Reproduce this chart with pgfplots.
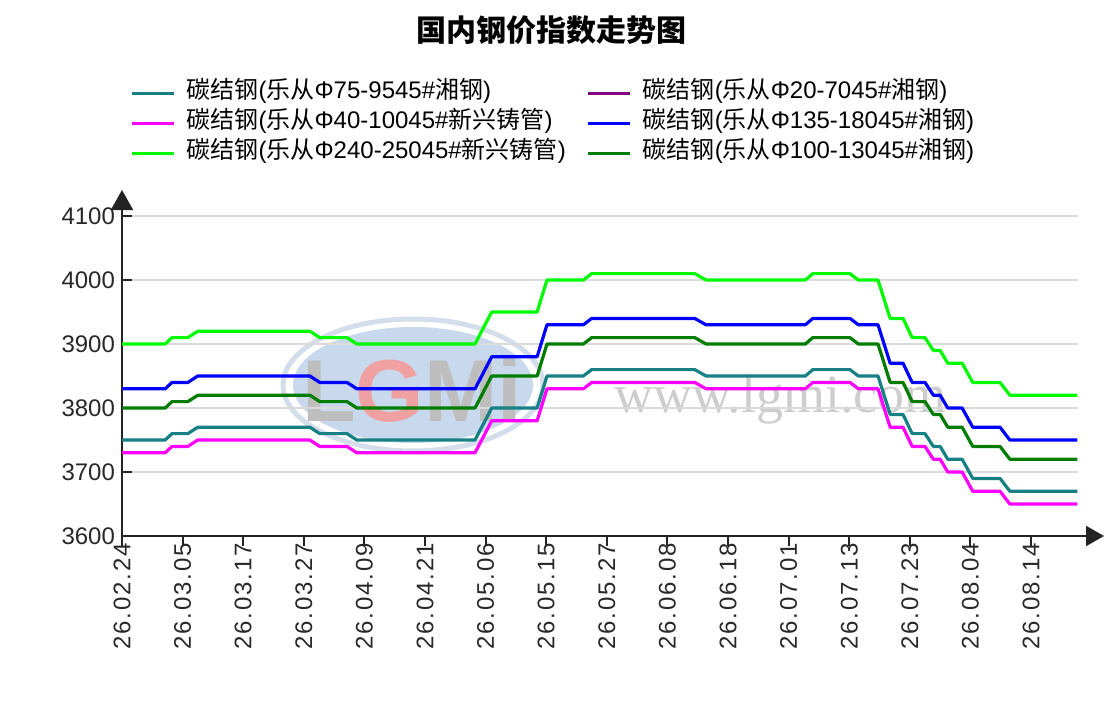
\documentclass[border=0pt]{standalone}
\usepackage{pgfplots}
\usepackage{pgfplotstable}
\pgfplotsset{compat=1.18}
\usepackage{fontspec}
\setmainfont{Liberation Sans}
\newfontfamily\cjk{Noto Sans CJK SC}
\newfontfamily\datefont[LetterSpace=8]{Liberation Sans}
\newfontfamily\wmserif{Liberation Serif}
\usetikzlibrary{arrows.meta}
\definecolor{cteal}{RGB}{22,128,132}
\definecolor{cpurple}{RGB}{128,0,128}
\definecolor{cmag}{RGB}{255,0,255}
\definecolor{cblue}{RGB}{0,0,255}
\definecolor{clime}{RGB}{0,250,0}
\definecolor{cdg}{RGB}{0,125,0}
\definecolor{axisc}{RGB}{35,35,35}
\definecolor{tickc}{RGB}{40,40,40}
\definecolor{gridc}{RGB}{218,218,218}
\definecolor{wmblue}{RGB}{200,217,238}
\definecolor{wmring}{RGB}{212,221,234}
\definecolor{wmgray}{RGB}{190,190,190}
\definecolor{wmpink}{RGB}{240,160,160}
\definecolor{wmtext}{RGB}{205,205,205}
\newcommand{\ent}[2]{{\cjk 碳结钢}({\cjk 乐从}Φ#1\#{\cjk #2})}

% idx = trading-day position (8 per date tick); values in yuan
\pgfplotstableread{
idx   green blue dg   teal mag
0     3900  3830 3800 3750 3730
5.7   3900  3830 3800 3750 3730
6.6   3910  3840 3810 3760 3740
8.7   3910  3840 3810 3760 3740
10.0  3920  3850 3820 3770 3750
24.8  3920  3850 3820 3770 3750
26.1  3910  3840 3810 3760 3740
29.7  3910  3840 3810 3760 3740
31.0  3900  3830 3800 3750 3730
46.6  3900  3830 3800 3750 3730
48.8  3950  3880 3850 3800 3780
54.8  3950  3880 3850 3800 3780
56.1  4000  3930 3900 3850 3830
60.9  4000  3930 3900 3850 3830
62.0  4010  3940 3910 3860 3840
75.6  4010  3940 3910 3860 3840
77.1  4000  3930 3900 3850 3830
90.2  4000  3930 3900 3850 3830
91.2  4010  3940 3910 3860 3840
96.1  4010  3940 3910 3860 3840
97.2  4000  3930 3900 3850 3830
99.8  4000  3930 3900 3850 3830
101.4 3940  3870 3840 3790 3770
103.1 3940  3870 3840 3790 3770
104.3 3910  3840 3810 3760 3740
106.0 3910  3840 3810 3760 3740
107.1 3890  3820 3790 3740 3720
108.0 3890  3820 3790 3740 3720
109.0 3870  3800 3770 3720 3700
110.9 3870  3800 3770 3720 3700
112.3 3840  3770 3740 3690 3670
115.9 3840  3770 3740 3690 3670
117.2 3820  3750 3720 3670 3650
126.1 3820  3750 3720 3670 3650
}\steel

\begin{document}
\begin{tikzpicture}
% watermark (behind the axis)
\fill[wmblue] (145.5pt,75.5pt) ellipse [x radius=60pt, y radius=29pt];
\draw[wmring, line width=2.5pt] (145.5pt,75.5pt) ellipse [x radius=65pt, y radius=33pt];
\node[font=\fontsize{44}{44}\selectfont\bfseries, anchor=center, inner sep=0pt] at (145pt,73pt)
  {\textcolor{wmgray}{L}\textcolor{wmpink}{G}\textcolor{wmgray}{Mi}};
\node[anchor=base west, font=\wmserif\fontsize{27}{27}\selectfont, text=wmtext, inner sep=0pt]
  at (246pt,61.5pt) {www.lgmi.com};

\begin{axis}[
  scale only axis, width=478pt, height=160pt,
  xmin=0, xmax=126.2, ymin=3600, ymax=4100,
  axis x line=bottom, axis y line=left,
  axis line style={line width=1pt, color=axisc},
  x axis line style={-{Triangle[width=10pt,length=9pt]}, shorten >=-13pt},
  y axis line style={-{Triangle[width=11pt,length=10pt]}, shorten >=-13pt},
  tick align=inside, major tick length=5pt,
  tick style={line width=1pt, color=axisc},
  xtick style={yshift=-5pt},
  ytick={3600,3700,...,4100},
  xtick={0,8,...,120},
  xticklabels={26.02.24,26.03.05,26.03.17,26.03.27,26.04.09,26.04.21,26.05.06,26.05.15,26.05.27,26.06.08,26.06.18,26.07.01,26.07.13,26.07.23,26.08.04,26.08.14},
  xticklabel style={rotate=90, anchor=east, font=\datefont\fontsize{12}{14}\selectfont, text=tickc},
  yticklabel style={font=\fontsize{12}{14}\selectfont, text=tickc},
  /pgf/number format/assume math mode=true,
  /pgf/number format/1000 sep={},
  ymajorgrids, grid style={line width=0.8pt, color=gridc},
  title={{\cjk\bfseries 国内钢价指数走势图}},
  title style={at={(0.449,1)}, anchor=center, yshift=87pt, font=\fontsize{15}{18}\selectfont},
  legend columns=2,
  legend cell align=left,
  legend style={draw=none, fill=none, inner sep=0pt, at={(0,1)}, anchor=north west,
    xshift=4pt, yshift=69pt, font=\fontsize{12}{14}\selectfont,
    nodes={inner sep=0pt, text height=10pt, text depth=5pt},
    /tikz/every odd column/.append style={column sep=5.5pt},
    row sep=0pt},
  legend image code/.code={\draw[#1, line width=1.6pt] (0pt,0pt) -- (21pt,0pt);},
  every axis plot/.append style={line width=1.6pt, no marks, line join=round},
]
\addplot[cteal] table[x=idx, y=teal] {\steel};
\addlegendentry{\makebox[200pt][l]{\ent{75-9545}{湘钢}}}
\addlegendimage{cpurple, line width=1.6pt}
\addlegendentry{\ent{20-7045}{湘钢}}
\addplot[cmag] table[x=idx, y=mag] {\steel};
\addlegendentry{\makebox[200pt][l]{\ent{40-10045}{新兴铸管}}}
\addplot[cblue] table[x=idx, y=blue] {\steel};
\addlegendentry{\ent{135-18045}{湘钢}}
\addplot[clime] table[x=idx, y=green] {\steel};
\addlegendentry{\makebox[200pt][l]{\ent{240-25045}{新兴铸管}}}
\addplot[cdg] table[x=idx, y=dg] {\steel};
\addlegendentry{\ent{100-13045}{湘钢}}
\end{axis}
\pgfresetboundingbox
\useasboundingbox (-61pt,-82.5pt) rectangle (492pt,268pt);
\end{tikzpicture}
\end{document}
